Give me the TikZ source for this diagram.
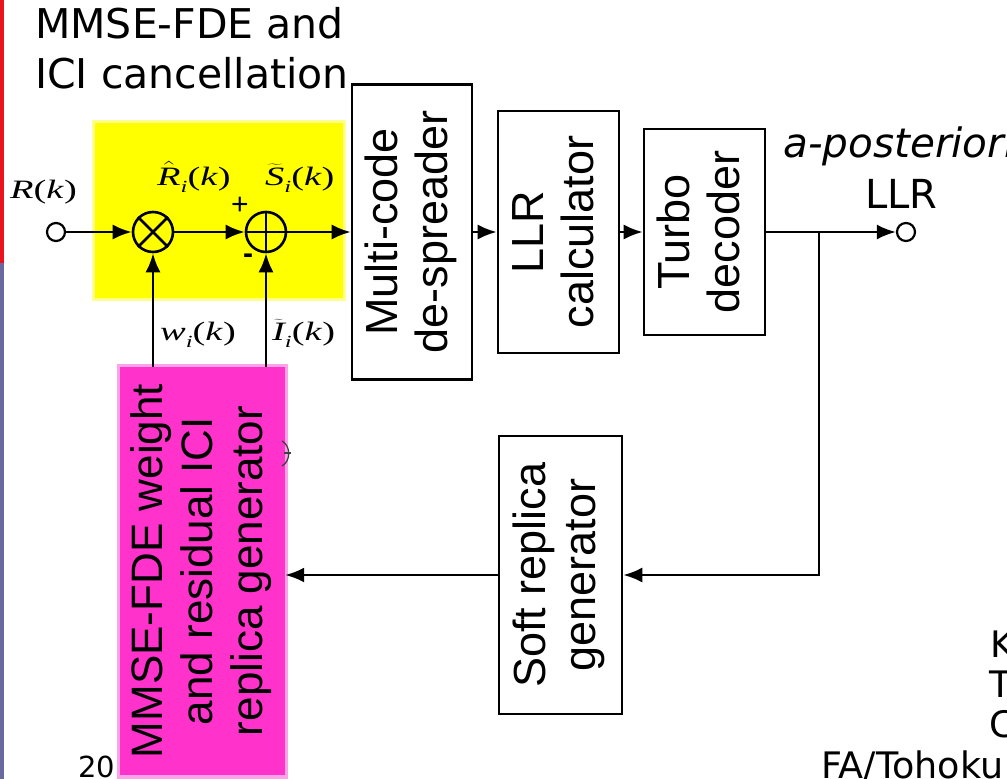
\RequirePackage{fix-cm}
\documentclass[tikz,border=0pt]{standalone}
\usepackage{fontspec}
\usepackage{graphicx}
\usetikzlibrary{arrows.meta}
\newfontfamily\arialf{Liberation Sans}
\newfontfamily\verdf{DejaVu Sans}
\newfontfamily\timesf{Liberation Serif}
\definecolor{padyellow}{RGB}{255,255,0}
\definecolor{padpink}{RGB}{255,51,204}
\definecolor{barred}{RGB}{232,20,30}
\definecolor{barblue}{RGB}{105,105,160}
\newcommand{\mlabtxt}[1]{\scalebox{1.45}[1]{\fontsize{26.5}{30}\selectfont\timesf #1}}
\newcommand{\subi}{\raisebox{-7pt}{\fontsize{17}{20}\selectfont\itshape i}}
\newcommand{\argk}{(\textit{k})}
\begin{document}
\begin{tikzpicture}[x=1pt,y=-1pt,
  blk/.style={draw=black, line width=2.6pt, fill=white, inner sep=0pt, font=\arialf\fontsize{45}{50}\selectfont},
  conn/.style={line width=2.4pt, -{Latex[length=19pt,width=15pt]}},
  wire/.style={line width=2.4pt},
  term/.style={circle, draw, line width=2.2pt, minimum size=18pt, inner sep=0pt},
  op/.style={circle, draw, line width=2.6pt, minimum size=40pt, inner sep=0pt},
  mlab/.style={inner sep=0pt, anchor=base west},
  vtxt/.style={inner sep=0pt, anchor=base west, font=\verdf\fontsize{41}{46}\selectfont},
  foot/.style={inner sep=0pt, anchor=base west, font=\verdf\fontsize{36.5}{40}\selectfont},
]
\useasboundingbox (0,0) rectangle (1007,779);
\clip (0,0) rectangle (1007,779);
% side bars
\fill[barred] (0,0) rectangle (3.5,263);
\fill[barblue] (0,263) rectangle (3.5,779);
% yellow pad
\fill[padyellow!45] (92,120) rectangle (346,301);
\fill[padyellow] (95,123) rectangle (343,298);
% date remnant
\node[foot, font=\verdf\fontsize{29}{34}\selectfont] (date) at (78,777) {20};
% pink pad
\fill[padpink!45] (117,364) rectangle (288,779);
\node[fill=padpink, minimum width=165pt, minimum height=408pt, inner sep=0pt,
      font=\arialf\fontsize{44}{50}\selectfont] (pink) at (202.5,571)
  {\rotatebox{90}{\begin{tabular}{@{}c@{}}MMSE-FDE weight\\and residual ICI\\replica generator\end{tabular}}};
% title
\node[vtxt] (title1) at (35,38) {MMSE-FDE and};
\node[vtxt] (title2) at (35,88) {ICI cancellation};
% blocks
\node[blk, minimum width=120pt, minimum height=295pt] (mcd) at (412,232)
  {\rotatebox{90}{\begin{tabular}{@{}c@{}}Multi-code\\de-spreader\end{tabular}}};
\node[blk, minimum width=121pt, minimum height=242pt] (llr) at (558.5,232)
  {\rotatebox{90}{\begin{tabular}{@{}c@{}}LLR\\calculator\end{tabular}}};
\node[blk, minimum width=121pt, minimum height=206pt] (turbo) at (704.5,232)
  {\rotatebox{90}{\begin{tabular}{@{}c@{}}Turbo\\decoder\end{tabular}}};
\node[blk, minimum width=123pt, minimum height=278pt] (soft) at (560.5,575)
  {\rotatebox{90}{\begin{tabular}{@{}c@{}}Soft replica\\generator\end{tabular}}};
% terminals and operators
\node[term] (in) at (56,232) {};
\node[term] (out) at (906,232) {};
\node[op] (mul) at (153,232) {};
\draw[line width=2.6pt] (mul.45) -- (mul.225) (mul.135) -- (mul.315);
\node[op] (add) at (266,232) {};
\draw[line width=2.6pt] (add.north) -- (add.south) (add.west) -- (add.east);
% signs
\node[inner sep=0pt, font=\arialf\fontsize{30}{30}\selectfont] (plus) at (240,206) {+};
\node[inner sep=0pt, font=\arialf\bfseries\fontsize{30}{30}\selectfont] (minus) at (248,259) {-};
% math labels
\node[mlab] (lR) at (10,198) {\mlabtxt{\textit{R}\argk}};
\node[mlab] (lRh) at (157,185) {\mlabtxt{$\hat{\hbox{\itshape R}}$\subi\argk}};
\node[mlab] (lSt) at (265,185) {\mlabtxt{$\widetilde{\hbox{\itshape S}}$\subi\argk}};
\node[mlab] (lw) at (160,340) {\mlabtxt{\textit{w}\subi\argk}};
\node[mlab] (lIt) at (272,340) {\mlabtxt{$\widetilde{\hbox{\itshape I}}$\subi\argk}};
% output labels
\node[vtxt, font=\verdf\itshape\fontsize{40.5}{44}\selectfont] (apost) at (783,157) {a-posteriori};
\node[vtxt, font=\verdf\fontsize{40}{44}\selectfont] (llrlab) at (865,208) {LLR};
% connectors
\draw[conn] (in) -- (mul);
\draw[conn] (mul) -- (add);
\draw[conn] (add) -- (mcd.west);
\draw[conn] (mcd) -- (llr);
\draw[conn] (llr) -- (turbo);
\draw[conn] (turbo) -- (out);
\coordinate (br) at (819,232);
\draw[conn] (br) |- (soft.east);
\draw[conn] (soft.west) -- (pink.east |- soft.west);
\draw[conn] (pink.north -| mul) -- (mul.south);
\draw[conn] (pink.north -| add) -- (add.south);
% remnant arc
\draw[line width=1.3pt, black!75] (282,441) .. controls (291,446) and (291,461) .. (282,466);
\draw[line width=1.1pt, black!75] (284,453) -- (291,453);
% footer
\node[foot] (fk) at (990,657) {K};
\node[foot] (ft) at (989,697) {T};
\node[foot] (fc) at (989,737) {C};
\node[foot] (ffa) at (821,778) {FA/Tohoku};
\end{tikzpicture}
\end{document}
